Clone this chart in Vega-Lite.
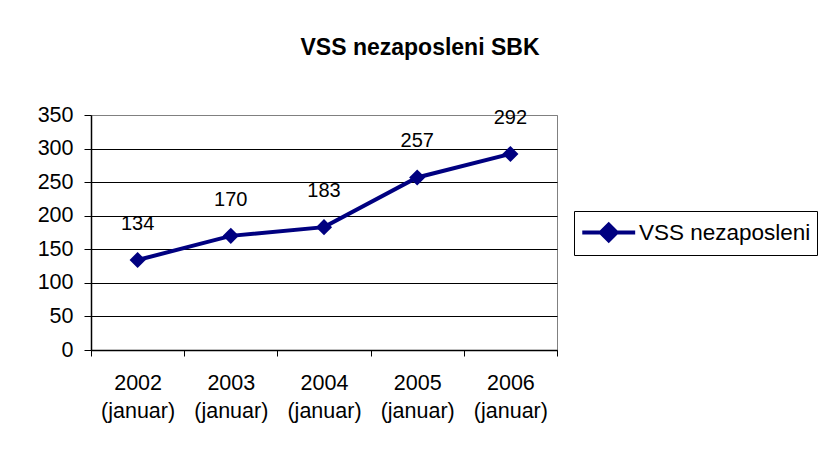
{
  "$schema": "https://vega.github.io/schema/vega-lite/v6.json",
  "width": 466,
  "height": 235,
  "autosize": {"type": "none"},
  "padding": {"left": 91, "top": 115, "right": 269, "bottom": 103},
  "background": "white",
  "title": {
    "text": "VSS nezaposleni SBK",
    "font": "Liberation Sans",
    "fontSize": 23,
    "fontWeight": "bold",
    "color": "black",
    "anchor": "middle",
    "dx": 96,
    "offset": 44
  },
  "data": {
    "values": [
      {"year": "2002", "value": 134, "series": "VSS nezaposleni"},
      {"year": "2003", "value": 170, "series": "VSS nezaposleni"},
      {"year": "2004", "value": 183, "series": "VSS nezaposleni"},
      {"year": "2005", "value": 257, "series": "VSS nezaposleni"},
      {"year": "2006", "value": 292, "series": "VSS nezaposleni"}
    ]
  },
  "config": {
    "view": {"stroke": "#808080", "strokeWidth": 1},
    "font": "Liberation Sans"
  },
  "encoding": {
    "x": {
      "field": "year",
      "type": "nominal",
      "scale": {"type": "band", "paddingInner": 0, "paddingOuter": 0},
      "axis": {
        "title": null,
        "labelAngle": 0,
        "labelExpr": "datum.extra ? '' : [datum.label, '(januar)']",
        "labelFont": "Liberation Sans",
        "labelFontSize": 21.5,
        "labelColor": "black",
        "labelPadding": 16,
        "labelLineHeight": 28,
        "tickBand": "extent",
        "tickColor": "black",
        "tickSize": 6,
        "domainColor": "black",
        "domainWidth": 1.5,
        "grid": false
      }
    },
    "y": {
      "field": "value",
      "type": "quantitative",
      "scale": {"domain": [0, 350], "nice": false},
      "axis": {
        "title": null,
        "values": [0, 50, 100, 150, 200, 250, 300, 350],
        "labelFont": "Liberation Sans",
        "labelFontSize": 21.5,
        "labelColor": "black",
        "labelPadding": 11,
        "tickColor": "black",
        "tickSize": 7,
        "domainColor": "black",
        "domainWidth": 1.5,
        "grid": true,
        "gridColor": {"condition": {"test": "datum.value == 350", "value": "#808080"}, "value": "black"},
        "gridWidth": 1.2
      }
    }
  },
  "layer": [
    {
      "mark": {"type": "line", "color": "#000080", "strokeWidth": 4},
      "encoding": {}
    },
    {
      "mark": {"type": "point", "shape": "diamond", "filled": true, "size": 260, "opacity": 1},
      "encoding": {
        "color": {
          "field": "series",
          "type": "nominal",
          "scale": {"range": ["#000080"]},
          "legend": {
            "title": null,
            "orient": "none",
            "legendX": 483,
            "legendY": 96,
            "strokeColor": "black",
            "padding": 6,
            "symbolType": "M-1,0H3M0.4,0L1,-0.6L1.6,0L1,0.6Z",
            "symbolSize": 700,
            "symbolStrokeWidth": 4,
            "symbolStrokeColor": "#000080",
            "symbolFillColor": "#000080",
            "labelFont": "Liberation Sans",
            "labelFontSize": 22.5,
            "labelColor": "black",
            "labelOffset": 28,
            "labelLimit": 400
          }
        }
      }
    },
    {
      "mark": {"type": "text", "baseline": "alphabetic", "dy": -30, "fontSize": 20, "font": "Liberation Sans", "color": "black"},
      "encoding": {"text": {"field": "value", "type": "quantitative"}}
    }
  ]
}
